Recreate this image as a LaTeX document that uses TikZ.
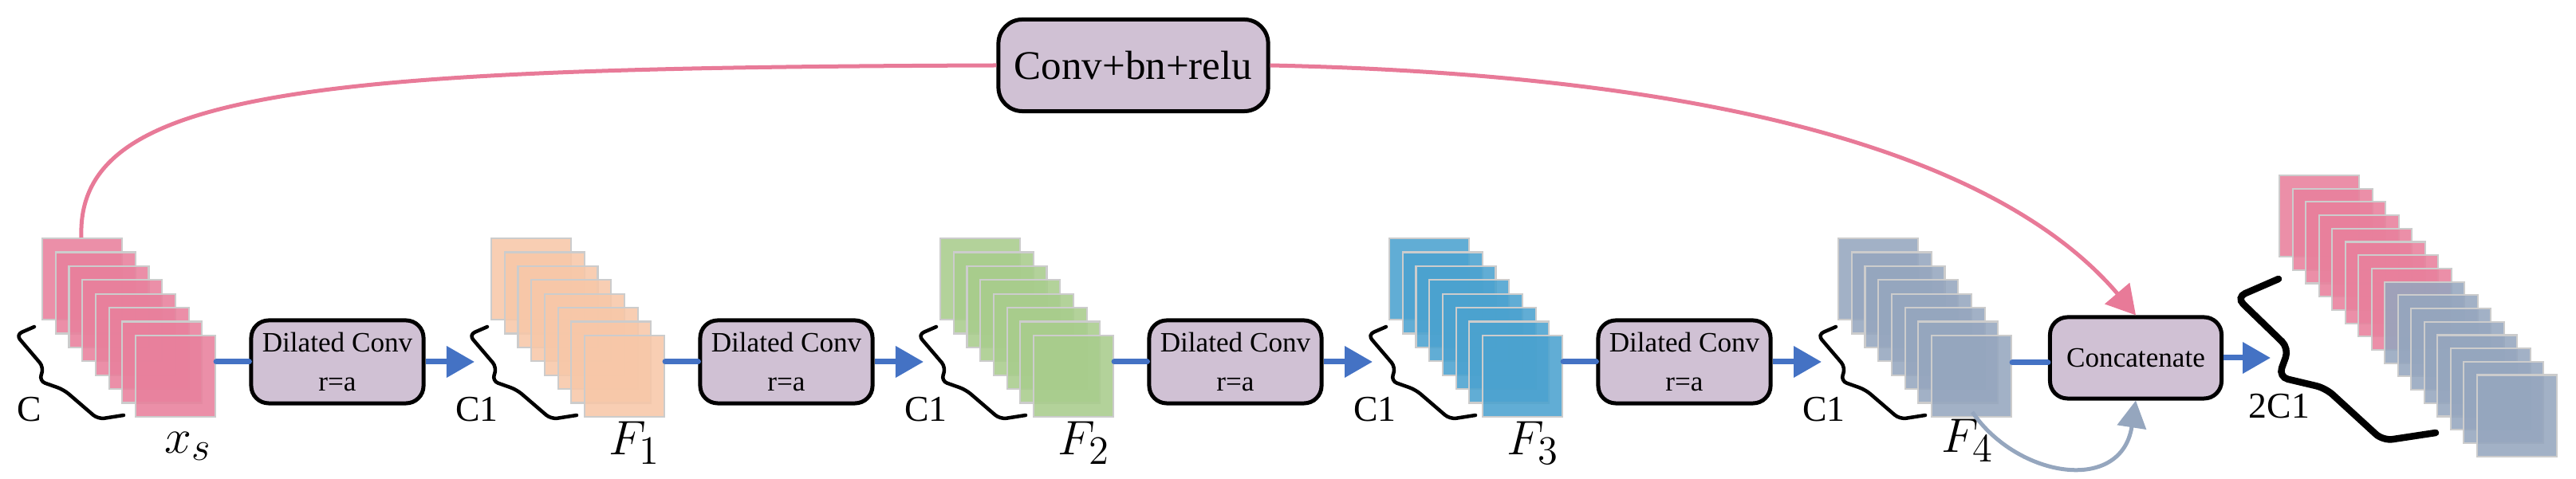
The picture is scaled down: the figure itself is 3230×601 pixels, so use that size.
\documentclass[tikz,border=0pt]{standalone}
\usepackage{fontspec}
\setmainfont{Liberation Serif}
\usetikzlibrary{arrows.meta}
\definecolor{cpink}{HTML}{E8809C}
\definecolor{cpeach}{HTML}{F7C7A8}
\definecolor{cgreen}{HTML}{A8CC8C}
\definecolor{cblue}{HTML}{4BA2CF}
\definecolor{cgray}{HTML}{95A6BE}
\definecolor{cbox}{HTML}{D0C1D4}
\definecolor{carrow}{HTML}{4472C4}
\definecolor{cline}{HTML}{E87A98}
\tikzset{
  sheet/.style={draw=black!20, line width=0.6pt, fill=#1, fill opacity=0.88, draw opacity=1,
    minimum width=1cm, minimum height=1.02cm, inner sep=0, anchor=north west},
  blk/.style={draw=black, line width=0.05cm, fill=cbox, rounded corners=0.22cm, inner sep=0, align=center},
  conn/.style={carrow, line width=0.07cm, line cap=round},
  connarr/.style={carrow, line width=0.07cm, -{Triangle[length=0.35cm,width=0.38cm]}},
  brace/.style={line width=0.045cm, rounded corners=0.08cm, line cap=round},
  lab/.style={font=\fontsize{13}{13}\selectfont, inner sep=0},
  flab/.style={font=\fontsize{19}{19}\selectfont, inner sep=0},
}
\newcommand\mystack[4]{%
  \foreach \i in {0,...,7}{\node[sheet=#3] (#4\i) at ({#1+16.7*\i},{#2+17.4*\i}) {};}}
\newcommand\mybrace[1]{%
  \draw[brace,shift={(#1,0)}] (43,410) -- (20,420) -- (55,461) -- (49,478) -- (80,489) -- (123,526) -- (155,521);}
\begin{document}
\begin{tikzpicture}[x=0.01cm,y=-0.01cm]
\useasboundingbox (0,0) rectangle (3230,601);
% stacks
\mystack{52}{298}{cpink}{s}
\mystack{615}{298}{cpeach}{a}
\mystack{1178}{298}{cgreen}{b}
\mystack{1741}{298}{cblue}{c}
\mystack{2304}{298}{cgray}{d}
\foreach \i in {0,...,15}{
  \ifnum\i<8 \def\cc{cpink}\else\def\cc{cgray}\fi
  \node[sheet=\cc] (o\i) at ({2857+16.5*\i},{219+16.7*\i}) {};}
% braces
\mybrace{0}\mybrace{568}\mybrace{1131}\mybrace{1695}\mybrace{2259}
\draw[line width=0.085cm, rounded corners=0.12cm, line cap=round]
  (2857,350) -- (2804,373) -- (2870,437) -- (2857,473) -- (2916,487) -- (2988,553) -- (3054,543);
% labels
\node[lab] (lc) at (37,514) {C};
\node[lab] (l1) at (598,514) {C1};
\node[lab] (l2) at (1161,514) {C1};
\node[lab] (l3) at (1724,514) {C1};
\node[lab] (l4) at (2287,514) {C1};
\node[lab] (l5) at (2858,510) {2C1};
\node[flab] (fx) at (236,560) {$x_s$};
\node[flab] (f1) at (796,556) {$F_1$};
\node[flab] (f2) at (1359,556) {$F_2$};
\node[flab] (f3) at (1922,556) {$F_3$};
\node[flab] (f4) at (2467,553) {$F_4$};
% boxes
\foreach \n/\x in {d1/423,d2/986,d3/1549,d4/2112}{
  \node[blk, minimum width=2.16cm, minimum height=1.04cm, font=\fontsize{10}{14}\selectfont] (\n) at (\x,454) {Dilated Conv\\r=a};}
\node[blk, minimum width=2.15cm, minimum height=1.02cm, font=\fontsize{10}{12}\selectfont] (cat) at (2678,449) {Concatenate};
\node[blk, minimum width=3.38cm, minimum height=1.15cm, rounded corners=0.3cm, font=\fontsize{14.5}{16}\selectfont] (cbr) at (1421,82) {Conv+bn+relu};
% connectors
\draw[conn] (s7.east |- d1) -- (d1.west);
\draw[conn] (a7.east |- d2) -- (d2.west);
\draw[conn] (b7.east |- d3) -- (d3.west);
\draw[conn] (c7.east |- d4) -- (d4.west);
\draw[conn] (d7.east |- 0,455) -- (cat.west |- 0,455);
\coordinate (t1) at (595,454);
\coordinate (t2) at (1158,454);
\coordinate (t3) at (1721,454);
\coordinate (t4) at (2284,454);
\coordinate (t5) at (2847,449);
\draw[connarr] (d1.east) -- (t1);
\draw[connarr] (d2.east) -- (t2);
\draw[connarr] (d3.east) -- (t3);
\draw[connarr] (d4.east) -- (t4);
\draw[connarr] (cat.east) -- (t5);
% skip curves
\coordinate (p0) at (102,298);
\draw[cline, line width=0.05cm] (p0) .. controls (95,110) and (400,85) .. (cbr.west);
\draw[cline, line width=0.05cm, -{Triangle[length=0.36cm,width=0.4cm]}]
  (cbr.east) .. controls (2200,95) and (2520,210) .. (cat.north);
\coordinate (g0) at (2473,517);
\draw[cgray, line width=0.05cm, -{Triangle[length=0.34cm,width=0.36cm]}]
  (g0) .. controls (2530,600) and (2660,620) .. (cat.south);
\end{tikzpicture}
\end{document}
